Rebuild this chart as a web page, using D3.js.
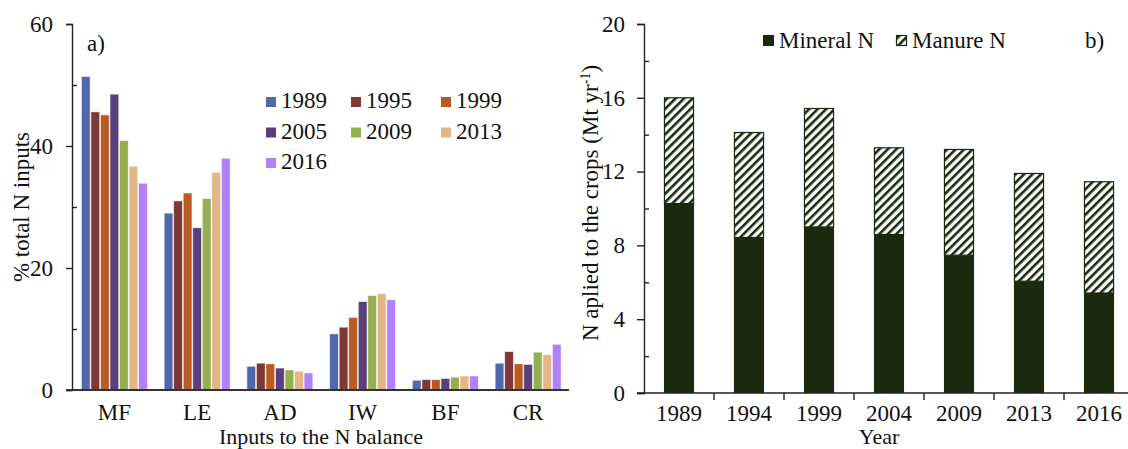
<!DOCTYPE html>
<html>
<head>
<meta charset="utf-8">
<script src="https://cdn.jsdelivr.net/npm/d3@7"></script>
<style>
  body { margin: 0; background: #fff; }
  text { font-family: "Liberation Serif", "Times New Roman", serif; fill: #111; }
</style>
</head>
<body>
<div id="chart"></div>
<script>
// panel a) data
var inputs = ["MF", "LE", "AD", "IW", "BF", "CR"];
var yearsA = ["1989", "1995", "1999", "2005", "2009", "2013", "2016"];
var colorsA = ["#5069ad", "#7f3738", "#b95c21", "#5b3f7a", "#95ae4f", "#e3b685", "#b281f7"];
var v1989 = [51.4, 29.0, 3.9, 9.2, 1.6, 4.4];
var v1995 = [45.6, 31.0, 4.4, 10.3, 1.7, 6.3];
var v1999 = [45.1, 32.3, 4.3, 11.9, 1.7, 4.3];
var v2005 = [48.5, 26.6, 3.6, 14.5, 1.9, 4.2];
var v2009 = [40.9, 31.4, 3.3, 15.5, 2.1, 6.2];
var v2013 = [36.7, 35.7, 3.1, 15.8, 2.3, 5.8];
var v2016 = [33.9, 38.0, 2.8, 14.8, 2.3, 7.5];
var seriesA = [v1989, v1995, v1999, v2005, v2009, v2013, v2016];
var ticksA = [0, 20, 40, 60];

// panel b) data
var yearsB = ["1989", "1994", "1999", "2004", "2009", "2013", "2016"];
var mineralN = [10.27, 8.43, 9.0, 8.59, 7.47, 6.06, 5.42];
var totalN = [16.0, 14.12, 15.42, 13.29, 13.2, 11.9, 11.45];
var ticksB = [0, 4, 8, 12, 16, 20];

var W = 1128, H = 449, FS = 23;
var svg = d3.select("#chart").append("svg")
    .attr("width", W).attr("height", H);

// hatch for manure N
var pat = svg.append("defs").append("pattern")
    .attr("id", "hatch")
    .attr("patternUnits", "userSpaceOnUse")
    .attr("width", 6).attr("height", 6)
    .attr("patternTransform", "rotate(45)");
pat.append("rect").attr("width", 6).attr("height", 6).attr("fill", "#fff");
pat.append("rect").attr("width", 2.6).attr("height", 6).attr("fill", "#1b2a0e");

function styleText(sel) {
  sel.attr("font-size", FS).attr("font-family", "Liberation Serif").attr("fill", "#111");
}

// ---------- panel a ----------
var xA = d3.scaleBand().domain(inputs).range([73, 569.5]);
var groupW = 66;
var xInner = d3.scaleBand().domain(yearsA).range([0, groupW]).paddingInner(0.08);
var yA = d3.scaleLinear().domain([0, 60]).range([390, 24]);

var gA = svg.append("g");
yearsA.forEach(function (yr, i) {
  gA.append("g").selectAll("rect")
    .data(seriesA[i])
    .enter().append("rect")
      .attr("x", function (d, j) { return xA(inputs[j]) + (xA.bandwidth() - groupW) / 2 + xInner(yr); })
      .attr("y", function (d) { return yA(d); })
      .attr("width", xInner.bandwidth())
      .attr("height", function (d) { return yA(0) - yA(d); })
      .attr("fill", colorsA[i])
      .attr("stroke", "rgba(255,255,255,0.7)")
      .attr("stroke-width", 0.8);
});

// y axis a
var axA = gA.append("g").attr("transform", "translate(72,0)")
  .call(d3.axisLeft(yA).tickValues(ticksA).tickSize(6).tickPadding(13));
axA.select(".domain").attr("stroke", "#222").attr("stroke-width", 1.4);
axA.selectAll(".tick line").attr("stroke", "#222").attr("stroke-width", 1.4);
axA.selectAll(".tick text").call(styleText);
gA.append("g").attr("transform", "translate(72,0)")
  .call(d3.axisRight(yA).tickValues([10, 30, 50]).tickSize(5).tickFormat(""))
  .call(function (g) { g.select(".domain").remove(); g.selectAll("line").attr("stroke", "#222").attr("stroke-width", 1.4); });

// x axis a
gA.append("line").attr("x1", 66).attr("x2", 569).attr("y1", yA(0)).attr("y2", yA(0))
  .attr("stroke", "#333").attr("stroke-width", 2);
var axXA = gA.append("g").attr("transform", "translate(0," + yA(0) + ")")
  .call(d3.axisBottom(xA).tickSize(0).tickPadding(14));
axXA.select(".domain").remove();
axXA.selectAll("text").call(styleText);

gA.append("text").attr("x", 321).attr("y", 444).attr("text-anchor", "middle")
  .attr("font-size", 22).text("Inputs to the N balance");
gA.append("text").attr("transform", "translate(29,207) rotate(-90)").attr("text-anchor", "middle")
  .attr("font-size", FS).text("% total N inputs");
gA.append("text").attr("x", 87).attr("y", 51).attr("font-size", FS).text("a)");

// legend a
var legA = gA.append("g");
yearsA.forEach(function (yr, i) {
  var col = i % 3, row = Math.floor(i / 3);
  var lx = [266, 351, 441][col], ly = 97 + row * 30.5;
  legA.append("rect").attr("x", lx).attr("y", ly).attr("width", 10).attr("height", 10).attr("fill", colorsA[i]);
  legA.append("text").attr("x", lx + 15).attr("y", ly + 11).attr("font-size", FS).text(yr);
});

// ---------- panel b ----------
var xB = d3.scaleBand().domain(yearsB).range([644, 644 + 70 * 7]).paddingInner(0.57).paddingOuter(0.285);
var yB = d3.scaleLinear().domain([0, 20]).range([393, 24]);
var gB = svg.append("g");

gB.append("g").selectAll("rect")
  .data(mineralN).enter().append("rect")
    .attr("x", function (d, i) { return xB(yearsB[i]); })
    .attr("y", function (d) { return yB(d); })
    .attr("width", xB.bandwidth())
    .attr("height", function (d) { return yB(0) - yB(d); })
    .attr("fill", "#1b2a0e");
gB.append("g").selectAll("rect")
  .data(totalN).enter().append("rect")
    .attr("x", function (d, i) { return xB(yearsB[i]) + 0.5; })
    .attr("y", function (d) { return yB(d); })
    .attr("width", xB.bandwidth() - 1)
    .attr("height", function (d, i) { return yB(mineralN[i]) - yB(d); })
    .attr("fill", "url(#hatch)")
    .attr("stroke", "#1b2a0e").attr("stroke-width", 1.2);

var axB = gB.append("g").attr("transform", "translate(644,0)")
  .call(d3.axisLeft(yB).tickValues(ticksB).tickSize(7).tickPadding(12));
axB.select(".domain").attr("stroke", "#222").attr("stroke-width", 1.4);
axB.selectAll(".tick line").attr("stroke", "#222").attr("stroke-width", 1.4);
axB.selectAll(".tick text").call(styleText);
gB.append("g").attr("transform", "translate(644,0)")
  .call(d3.axisRight(yB).tickValues([2, 6, 10, 14, 18]).tickSize(5).tickFormat(""))
  .call(function (g) { g.select(".domain").remove(); g.selectAll("line").attr("stroke", "#222").attr("stroke-width", 1.4); });

gB.append("line").attr("x1", 637).attr("x2", W).attr("y1", yB(0)).attr("y2", yB(0))
  .attr("stroke", "#222").attr("stroke-width", 1.4);
// tick marks between categories
gB.append("g").selectAll("line")
  .data(yearsB.slice(1)).enter().append("line")
    .attr("x1", function (d) { return xB(d) - xB.step() * xB.paddingInner() / 2; })
    .attr("x2", function (d) { return xB(d) - xB.step() * xB.paddingInner() / 2; })
    .attr("y1", yB(0)).attr("y2", yB(0) + 7)
    .attr("stroke", "#222").attr("stroke-width", 1.4);
var axXB = gB.append("g").attr("transform", "translate(0," + yB(0) + ")")
  .call(d3.axisBottom(xB).tickSize(0).tickPadding(12));
axXB.select(".domain").remove();
axXB.selectAll("text").call(styleText);

gB.append("text").attr("x", 879).attr("y", 444).attr("text-anchor", "middle")
  .attr("font-size", 22).text("Year");
var yt = gB.append("text").attr("transform", "translate(598,203) rotate(-90)").attr("text-anchor", "middle")
  .attr("font-size", FS);
yt.append("tspan").text("N aplied to the crops (Mt yr");
yt.append("tspan").attr("font-size", 14).attr("dy", -8).text("-1");
yt.append("tspan").attr("dy", 8).text(")");
gB.append("text").attr("x", 1085).attr("y", 48).attr("font-size", FS).text("b)");

// legend b
gB.append("rect").attr("x", 763).attr("y", 35).attr("width", 11).attr("height", 11).attr("fill", "#1b2a0e");
gB.append("text").attr("x", 779).attr("y", 48).attr("font-size", FS).text("Mineral N");
gB.append("rect").attr("x", 896.5).attr("y", 35.5).attr("width", 10).attr("height", 10)
  .attr("fill", "url(#hatch)").attr("stroke", "#1b2a0e").attr("stroke-width", 1.2);
gB.append("text").attr("x", 912).attr("y", 48).attr("font-size", FS).text("Manure N");
</script>
</body>
</html>
